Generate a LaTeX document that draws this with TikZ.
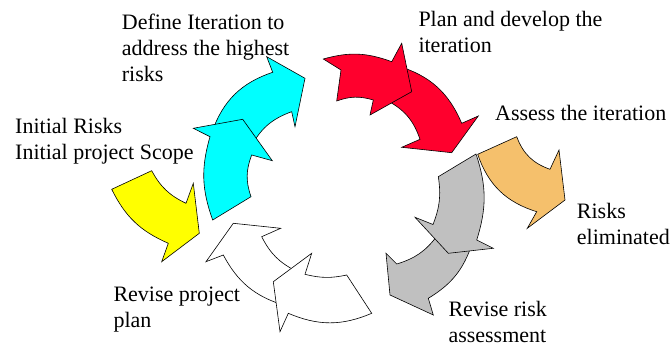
\documentclass[tikz,border=0pt]{standalone}
\usepackage{fontspec}
\setmainfont{Liberation Serif}
\begin{document}
\begin{tikzpicture}[x=1pt,y=-1pt,
  blade/.style={draw=black,line width=0.6pt,line join=miter},
  lbl/.style={anchor=base west,inner sep=0pt,align=left,
              font=\fontsize{22}{26}\selectfont}]
\definecolor{aqua}{RGB}{0,255,255}
\definecolor{crimson}{RGB}{255,0,45}
\definecolor{lemon}{RGB}{255,255,0}
\definecolor{apricot}{RGB}{245,192,108}
\definecolor{silver}{RGB}{192,192,192}
\useasboundingbox (0,0) rectangle (671,347);

% yellow start arrow
\filldraw[blade,fill=lemon] (111.7,189.3) to[bend right=20] (168.3,243.3)
  -- (161.7,261.7) -- (199.3,233.3) -- (193.3,183.3) -- (186,203.3)
  to[bend left=18] (151.7,170.7) -- cycle;

% cyan pair
\filldraw[blade,fill=aqua] (212,132) to[bend left=26] (272.7,72.3)
  -- (266.7,56.7) -- (305,78.3) -- (295,126.7) -- (291.7,111.7)
  to[bend right=22] (250,149) -- cycle;
\filldraw[blade,fill=aqua] (212.7,220) to[bend left=18] (210,136.7)
  -- (193.3,128.3) -- (242.7,119.3) -- (272.3,160.7) -- (251.7,155)
  to[bend right=20] (251,196.7) -- cycle;

% red pair
\filldraw[blade,fill=crimson] (398,66) to[bend left=25] (461.7,123.3)
  -- (478.3,116) -- (451.7,152.7) -- (401.7,147.3) -- (420,139.3)
  to[bend right=22] (386,100) -- cycle;
\filldraw[blade,fill=crimson] (323.3,59) to[bend left=18] (391.7,61.7)
  -- (401.7,43.3) -- (411.7,91.7) -- (370,115) -- (373.3,100)
  to[bend right=18] (336.7,101) -- (341,70) -- cycle;

% orange result arrow
\filldraw[blade,fill=apricot] (477.7,154.3) to[bend right=27] (536.7,211.7)
  -- (527.3,228.3) -- (565,200) -- (559,150) -- (550,169.3)
  to[bend left=25] (516.7,136.7) -- cycle;

% grey pair
\filldraw[blade,fill=silver] (472,244) to[bend left=20] (428.3,298.3)
  -- (433.3,315) -- (390,295) -- (386,253.3) -- (396.7,264)
  to[bend right=18] (437,236) -- cycle;
\filldraw[blade,fill=silver] (476,154) to[bend left=18] (476.7,240)
  -- (493.3,248.3) -- (448.3,253.3) -- (415,217.3) -- (433,224.5)
  to[bend right=15] (438.3,176.7) -- cycle;

% white pair
\filldraw[blade,fill=white] (283,305) to[bend left=22] (223.3,255)
  -- (206,261.7) -- (233.3,223.3) -- (280.7,228.3) -- (261.7,236.7)
  to[bend right=18] (296,271) -- cycle;
\filldraw[blade,fill=white] (371.7,313.3) to[bend left=23] (288.3,313.3)
  -- (280,331.7) -- (273.3,281.7) -- (311.7,253.3) -- (305,274.3)
  to[bend right=13] (346.7,275) -- cycle;

% labels (base anchor sits on the last line of each label)
\node[lbl] (define) at (121.7,81.7) {Define Iteration to\\address the highest\\risks};
\node[lbl] (plan) at (418.3,53) {Plan and develop the\\iteration};
\node[lbl] (assess) at (495,120.7) {Assess the iteration};
\node[lbl] (initial) at (15,159.3) {Initial Risks\\Initial project Scope};
\node[lbl] (elim) at (576.7,244.3) {Risks\\eliminated};
\node[lbl] (revrisk) at (448.3,342.5) {Revise risk\\assessment};
\node[lbl] (revplan) at (113.3,327.7) {Revise project\\plan};
\end{tikzpicture}
\end{document}
